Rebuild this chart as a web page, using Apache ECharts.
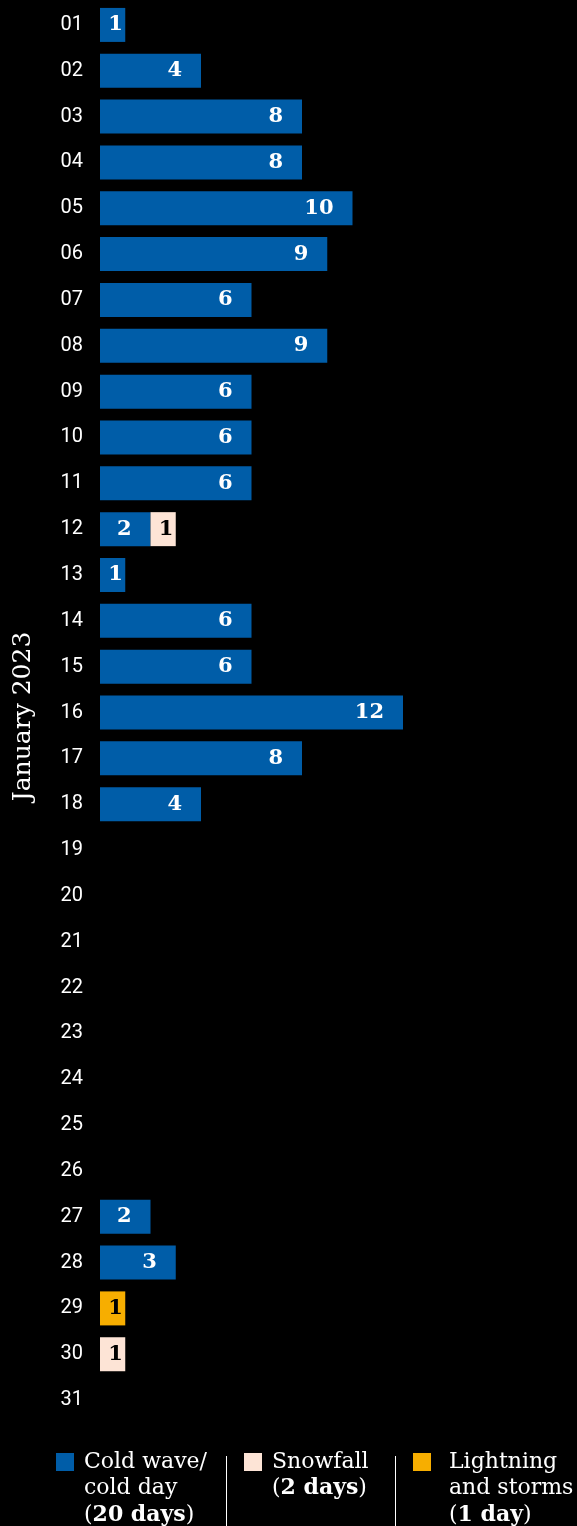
<!DOCTYPE html>
<html>
<head>
<meta charset="utf-8">
<style>
html,body{margin:0;padding:0;background:#000;}
#chart{width:577px;height:1526px;}
</style>
<script src="https://cdn.jsdelivr.net/npm/echarts@6/dist/echarts.min.js"></script>
</head>
<body>
<div id="chart"></div>
<script>
const days = ['01','02','03','04','05','06','07','08','09','10','11','12','13','14','15','16','17','18','19','20','21','22','23','24','25','26','27','28','29','30','31'];
const coldWave  = [1,4,8,8,10,9,6,9,6,6,6,2,1,6,6,12,8,4,0,0,0,0,0,0,0,0,2,3,0,0,0];
const snowfall  = [0,0,0,0,0,0,0,0,0,0,0,1,0,0,0,0,0,0,0,0,0,0,0,0,0,0,0,0,0,1,0];
const lightning = [0,0,0,0,0,0,0,0,0,0,0,0,0,0,0,0,0,0,0,0,0,0,0,0,0,0,0,0,1,0,0];
const seriesNames = ['Cold wave/cold day','Snowfall','Lightning and storms'];
const axisTitle = 'January 2023';

const BLUE = '#005DA8', SNOW = '#FDE4D6', LIGHT = '#F7AE00';
const labelFont = 'DejaVu Serif';

function toData(arr) {
  return arr.map(v => {
    if (!v) return '-';
    return v === 1
      ? { value: v, label: { position: 'inside', offset: [3, 0] } }
      : { value: v };
  });
}
function mkSeries(name, arr, color, textColor) {
  return {
    name, type: 'bar', stack: 'total', barWidth: 34,
    itemStyle: { color },
    label: {
      show: true, position: 'insideRight', distance: 19,
      color: textColor, fontFamily: labelFont, fontWeight: 'bold', fontSize: 21
    },
    data: toData(arr)
  };
}

const chart = echarts.init(document.getElementById('chart'), null, { renderer: 'canvas' });

const legendItems = [
  { color: BLUE, sx: 56, tx: 84, rich: '{r|Cold wave/}\n{r|cold day}\n{r|(}{b|20 days}{r|)}' },
  { color: SNOW, sx: 244, tx: 272, rich: '{r|Snowfall}\n{r|(}{b|2 days}{r|)}' },
  { color: LIGHT, sx: 413, tx: 449, rich: '{r|Lightning}\n{r|and storms}\n{r|(}{b|1 day}{r|)}' }
];
const graphics = [];
legendItems.forEach(it => {
  graphics.push({ type: 'rect', left: it.sx, top: 1453, shape: { width: 18, height: 18 }, style: { fill: it.color } });
  graphics.push({
    type: 'text', left: it.tx, top: 1451,
    style: {
      text: it.rich, fill: '#fff',
      rich: {
        r: { fontFamily: labelFont, fontSize: 22, lineHeight: 26.5, fill: '#fff', fontWeight: 'normal' },
        b: { fontFamily: labelFont, fontSize: 22, lineHeight: 26.5, fill: '#fff', fontWeight: 'bold' }
      }
    }
  });
});
[226.5, 395.5].forEach(x => {
  graphics.push({ type: 'line', shape: { x1: x, y1: 1456, x2: x, y2: 1526 }, style: { stroke: '#fff', lineWidth: 1 } });
});

chart.setOption({
  backgroundColor: '#000',
  animation: false,
  grid: { left: 100, right: 22.5, top: 2, height: 1421, containLabel: false },
  xAxis: { type: 'value', min: 0, max: 18, show: false },
  yAxis: {
    type: 'category', data: days, inverse: true,
    axisLine: { show: false }, axisTick: { show: false }, splitLine: { show: false },
    axisLabel: { color: '#fff', fontFamily: 'Roboto', fontSize: 20, margin: 17 },
    name: axisTitle, nameLocation: 'middle', nameRotate: 90, nameGap: 64,
    nameTextStyle: { color: '#fff', fontFamily: labelFont, fontSize: 25, padding: [0, 8, 0, 0] }
  },
  series: [
    mkSeries(seriesNames[0], coldWave, BLUE, '#fff'),
    mkSeries(seriesNames[1], snowfall, SNOW, '#000'),
    mkSeries(seriesNames[2], lightning, LIGHT, '#000')
  ],
  graphic: graphics
});
</script>
</body>
</html>
